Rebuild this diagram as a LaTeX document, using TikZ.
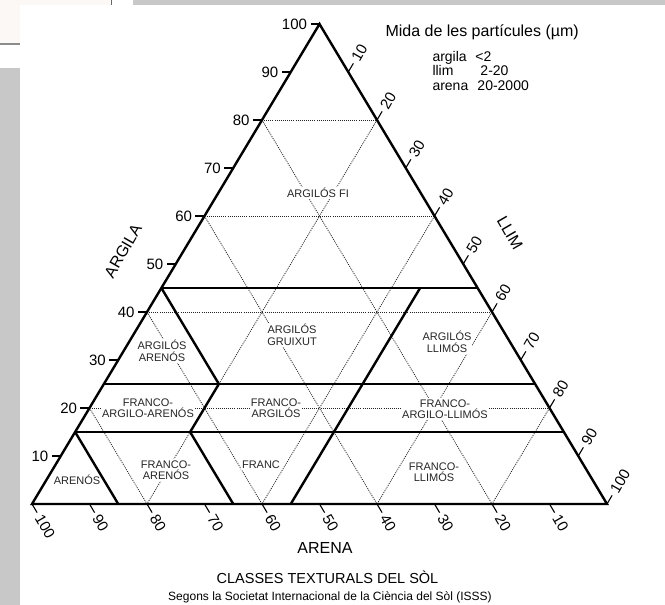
\documentclass[tikz,border=0pt]{standalone}
\usepackage{fontspec}
\setmainfont{Liberation Sans}
\usetikzlibrary{calc}

\definecolor{screengray}{RGB}{200,200,200}
\definecolor{offwhite}{RGB}{251,248,245}

\begin{document}
\begin{tikzpicture}[x=1pt,y=-1pt,line width=1pt,
  frame/.style={line width=2.4pt,line join=miter},
  bound/.style={line width=2.4pt},
  grid/.style={line width=0.8pt,black!85,dash pattern=on 1pt off 1.1pt},
  tick/.style={line width=1.1pt},
  num/.style={font=\fontsize{15}{15}\selectfont,inner sep=3pt},
  cls/.style={font=\fontsize{11}{11.5}\selectfont,fill=white,align=center,inner sep=1pt,text=black!85},
  lst/.style={font=\fontsize{14}{14}\selectfont,anchor=base west,inner sep=0pt}]

\useasboundingbox (0,0) rectangle (665,605);
\fill[white] (0,0) rectangle (665,605);
\fill[screengray] (0,68) rectangle (20,605);
\fill[screengray] (133,0) rectangle (665,5);
\fill[offwhite] (0,0) rectangle (20,43);
\fill[offwhite] (20,0) rectangle (110,5);
\draw[black!45,line width=1.5pt] (0,44) -- (20,44);
\draw[black!60,line width=1.5pt] (111.5,0) -- (111.5,5);

\coordinate (sa) at (32,504);
\coordinate (cl) at (319.5,24);
\coordinate (si) at (607,504);

\foreach \v in {20,40,60,80}{
  \draw[grid] ($(sa)!{\v/100}!(cl)$) -- ($(si)!{\v/100}!(cl)$);
  \draw[grid] ($(cl)!{\v/100}!(sa)$) -- ($(si)!{\v/100}!(sa)$);
  \draw[grid] ($(cl)!{\v/100}!(si)$) -- ($(sa)!{\v/100}!(si)$);
}

\node[cls] (argfi) at (318,193) {ARGILÓS FI};
\node[cls] (arggr) at (292,335) {ARGILÓS\\GRUIXUT};
\node[cls] (argar) at (162,351) {ARGILÓS\\ARENÓS};
\node[cls] (argll) at (447,342) {ARGILÓS\\LLIMÓS};
\node[cls] (frargar) at (148,408) {FRANCO-\\ARGILO-ARENÓS};
\node[cls] (frarg) at (276,408) {FRANCO-\\ARGILÓS};
\node[cls] (frargll) at (445,409) {FRANCO-\\ARGILO-LLIMÓS};
\node[cls] (aren) at (77,480) {ARENÓS};
\node[cls] (frar) at (166,470) {FRANCO-\\ARENÓS};
\node[cls] (franc) at (261,465) {FRANC};
\node[cls] (frll) at (434,472) {FRANCO-\\LLIMÓS};

\draw[bound] ($(sa)!.45!(cl)$) -- ($(si)!.45!(cl)$);
\draw[bound] ($(sa)!.25!(cl)$) -- ($(si)!.25!(cl)$);
\draw[bound] ($(sa)!.15!(cl)$) -- ($(si)!.15!(cl)$);
\draw[bound] ($(sa)!.45!(cl)$) -- (barycentric cs:sa=.55,cl=.25,si=.20)
      -- (barycentric cs:sa=.65,cl=.15,si=.20) -- ($(si)!.65!(sa)$);
\draw[bound] (barycentric cs:sa=.10,cl=.45,si=.45) -- ($(sa)!.45!(si)$);
\draw[bound] ($(sa)!.15!(cl)$) -- ($(sa)!.15!(si)$);
\draw[frame] (sa) -- (cl) -- (si) -- cycle;

\foreach \v in {10,20,...,100}{
  \draw[tick] ($(sa)!{\v/100}!(cl)$) -- ++(-9,0) node[num,anchor=east] (cl\v) {\v};
  \draw[tick] ($(cl)!{\v/100}!(si)$) -- ++(5.1,-8.6) node[num,rotate=60,anchor=west] (si\v) {\v};
  \draw[tick] ($(si)!{\v/100}!(sa)$) -- ++(5.1,8.6) node[num,rotate=-60,anchor=west] (sa\v) {\v};
}

\node[font=\fontsize{16}{16}\selectfont,rotate=60,inner sep=1pt] (argila) at (123,251) {ARGILA};
\node[font=\fontsize{16}{16}\selectfont,rotate=-60,inner sep=1pt] (llim) at (510,233) {LLIM};
\node[font=\fontsize{16}{16}\selectfont] (arena) at (325,548) {ARENA};

\node[font=\fontsize{16}{16}\selectfont,anchor=base west,inner sep=0pt] (mida) at (385,37) {Mida de les partícules (µm)};
\node[lst] (midaargila) at (432,61) {\makebox[43pt][l]{argila}<2};
\node[lst] (midallim) at (432,75.5) {\makebox[48pt][l]{llim}2-20};
\node[lst] (midaarena) at (432,90) {\makebox[45pt][l]{arena}20-2000};

\node[font=\fontsize{14.5}{15}\selectfont] (titol) at (327.5,577.5) {CLASSES TEXTURALS DEL SÒL};
\node[font=\fontsize{12}{12}\selectfont] (font) at (330,597) {Segons la Societat Internacional de la Ciència del Sòl (ISSS)};
\end{tikzpicture}
\end{document}
